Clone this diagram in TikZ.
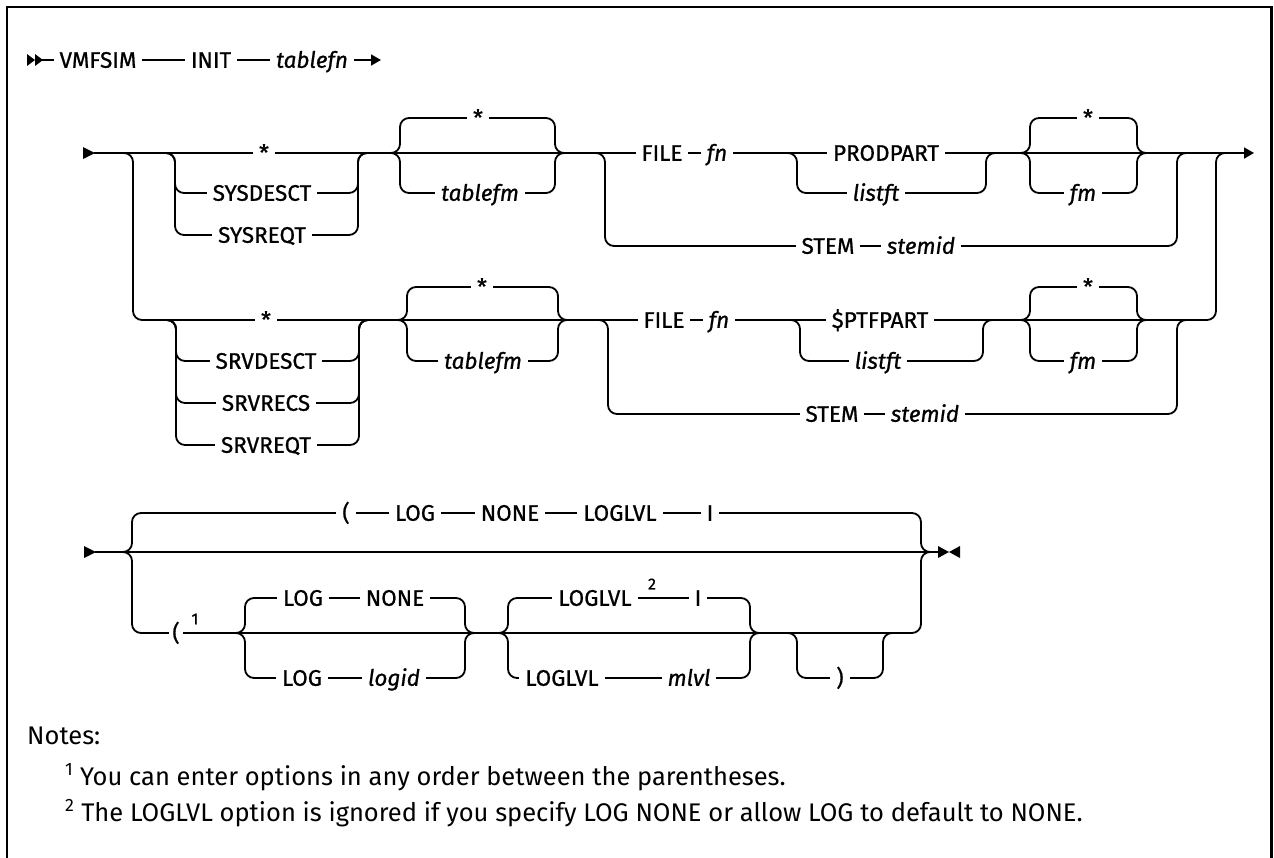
\documentclass[tikz,border=0pt]{standalone}
\usepackage{fontspec}
\setmainfont{Fira Sans}
\newfontfamily\dfont[FakeBold=0.8]{Fira Sans}
\usetikzlibrary{arrows.meta}
\begin{document}
\begin{tikzpicture}[x=1pt,y=-1pt,
  ln/.style={line width=1.8pt, rounded corners=9pt},
  kw/.style={font=\dfont\fontsize{22.5}{24}\selectfont, fill=white, inner xsep=6pt, inner ysep=3pt, text height=15.5pt, text depth=0pt},
  var/.style={kw, font=\dfont\itshape\fontsize{22.5}{24}\selectfont},
  sup/.style={font=\dfont\fontsize{16}{17}\selectfont, inner sep=0pt},
  note/.style={font=\fontsize{25.5}{28}\selectfont, anchor=base west, inner sep=0pt},
  tip/.style={-{Triangle[length=10pt,width=11pt]}}
]
\useasboundingbox (0,0) rectangle (1274,857);
\draw[line width=2.4pt] (7,870) -- (7,7) -- (1271.5,7) -- (1271.5,870);

% ---------- row 1
\fill (27,54)--(35,60)--(27,66)--cycle;
\fill (35,54)--(43,60)--(35,66)--cycle;
\draw[line width=1.8pt, tip] (42,60) -- (381,60);
\node[kw] (vmfsim) at (98,60) {VMFSIM};
\node[kw] (init) at (211,60) {INIT};
\node[var] (tablefn) at (312,60) {tablefn};

% ---------- section 2
\fill (83,147)--(95,153)--(83,159)--cycle;
\draw[line width=1.8pt, tip] (94,153) -- (1254,153);
\draw[ln] (115,153) -| (133,320) -| (1216,153) -- (1235,153);
% upper group
\draw[ln] (160,153) -| (175,193) -| (358,153) -- (372,153);
\draw[ln] (160,153) -| (175,235) -| (358,153) -- (372,153);
\draw[ln] (388,153) -| (400,118) -| (555,153) -- (567,153);
\draw[ln] (388,153) -| (400,193) -| (555,153) -- (567,153);
\draw[ln] (592,153) -| (605,246) -| (1177,153) -- (1190,153);
\draw[ln] (785,153) -| (797,193) -| (986,153) -- (998,153);
\draw[ln] (1018,153) -| (1030,118) -| (1137,153) -- (1149,153);
\draw[ln] (1018,153) -| (1030,193) -| (1137,153) -- (1149,153);
\node[kw] (ustar) at (264,153) {*};
\node[kw] (usysdesct) at (262,193) {SYSDESCT};
\node[kw] (usysreqt) at (262,235) {SYSREQT};
\node[kw] (utfmstar) at (478,118) {*};
\node[var] (utablefm) at (480,193) {tablefm};
\node[kw] (ufile) at (662,153) {FILE};
\node[var] (ufn) at (717,153) {fn};
\node[kw] (uprodpart) at (886,153) {PRODPART};
\node[var] (ulistft) at (876,193) {listft};
\node[kw] (ufmstar) at (1088,118) {*};
\node[var] (ufm) at (1083,193) {fm};
\node[kw] (ustem) at (828,246) {STEM};
\node[var] (ustemid) at (921,246) {stemid};
% lower group
\draw[ln] (163,320) -| (176,361) -| (359,320) -- (372,320);
\draw[ln] (163,320) -| (176,403) -| (359,320) -- (372,320);
\draw[ln] (163,320) -| (176,445) -| (359,320) -- (372,320);
\draw[ln] (395,320) -| (407,287) -| (558,320) -- (570,320);
\draw[ln] (395,320) -| (407,361) -| (558,320) -- (570,320);
\draw[ln] (595,320) -| (608,414) -| (1177,320) -- (1190,320);
\draw[ln] (788,320) -| (800,361) -| (983,320) -- (995,320);
\draw[ln] (1018,320) -| (1030,287) -| (1137,320) -- (1149,320);
\draw[ln] (1018,320) -| (1030,361) -| (1137,320) -- (1149,320);
\node[kw] (lstar) at (266,320) {*};
\node[kw] (lsrvdesct) at (266,361) {SRVDESCT};
\node[kw] (lsrvrecs) at (266,403) {SRVRECS};
\node[kw] (lsrvreqt) at (266,445) {SRVREQT};
\node[kw] (ltfmstar) at (482,287) {*};
\node[var] (ltablefm) at (483,361) {tablefm};
\node[kw] (lfile) at (664,320) {FILE};
\node[var] (lfn) at (719,320) {fn};
\node[kw] (lptfpart) at (880,320) {\$PTFPART};
\node[var] (llistft) at (878,361) {listft};
\node[kw] (lfmstar) at (1088,287) {*};
\node[var] (lfm) at (1083,361) {fm};
\node[kw] (lstem) at (832,414) {STEM};
\node[var] (lstemid) at (925,414) {stemid};

% ---------- row 3
\fill (84,546)--(96,552)--(84,558)--cycle;
\draw[line width=1.8pt] (95,552) -- (940,552);
\fill (938,546)--(949,552)--(938,558)--cycle;
\fill (960,546)--(949,552)--(960,558)--cycle;
\draw[ln] (118,552) -| (132,513) -| (921,552) -- (934,552);
\draw[ln] (118,552) -| (132,633) -| (921,552) -- (934,552);
\node[kw] (tparen) at (346,513) {(};
\node[kw] (tlog) at (415,513) {LOG};
\node[kw] (tnone) at (510,513) {NONE};
\node[kw] (tloglvl) at (620,513) {LOGLVL};
\node[kw] (ti) at (710,513) {I};
\node[kw, inner xsep=3pt] (bparen) at (176,633) {(};
\node[sup] (bone) at (195,619) {1};
\draw[ln] (233,633) -| (245,598) -| (465,633) -- (477,633);
\draw[ln] (233,633) -| (245,678) -| (465,633) -- (477,633);
\node[kw] (blog) at (303,598) {LOG};
\node[kw] (bnone) at (395,598) {NONE};
\node[kw] (blog2) at (302,678) {LOG};
\node[var] (blogid) at (394,678) {logid};
\draw[ln] (496,633) -| (508,598) -| (750,633) -- (762,633);
\draw[ln] (496,633) -| (508,678) -| (750,633) -- (762,633);
\node[kw] (bloglvl) at (595,598) {LOGLVL};
\node[sup] (btwo) at (652,584) {2};
\node[kw] (bi) at (698,598) {I};
\node[kw] (bloglvl2) at (562,678) {LOGLVL};
\node[var] (bmlvl) at (689,678) {mlvl};
\draw[ln] (785,633) -| (797,678) -| (883,633) -- (895,633);
\node[kw] (bclose) at (840,678) {)};

% ---------- notes
\node[note] (notes) at (27,744) {Notes:};
\node[note] (note1) at (65,785) {\textsuperscript{1} You can enter options in any order between the parentheses.};
\node[note] (note2) at (65,821) {\textsuperscript{2} The LOGLVL option is ignored if you specify LOG NONE or allow LOG to default to NONE.};
\end{tikzpicture}
\end{document}
